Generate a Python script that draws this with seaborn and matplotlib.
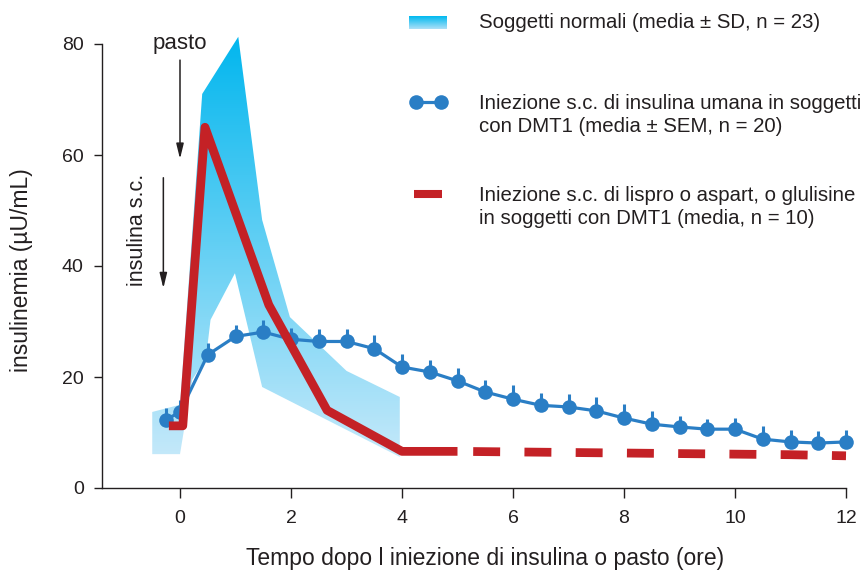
import numpy as np
import matplotlib
matplotlib.use("Agg")
import matplotlib.pyplot as plt
import seaborn as sns
import pandas as pd
from matplotlib.patches import Polygon
from matplotlib.lines import Line2D

# ---------------- data ----------------
# Normal subjects (mean ± SD) band edges
band_upper_t = [-0.5, 0.0, 0.40, 1.05, 1.48, 1.98, 3.0, 3.96]
band_upper_v = [13.7, 15.0, 71.0, 81.3, 48.3, 30.8, 21.1, 16.4]
band_lower_t = [-0.5, 0.0, 0.22, 0.47, 0.55, 0.99, 1.48, 3.96]
band_lower_v = [6.1, 6.1, 19.5, 23.5, 30.3, 38.7, 18.2, 5.6]

# Human insulin s.c. in DMT1 (mean ± SEM)
human_t = [-0.25, 0, 0.5, 1, 1.5, 2, 2.5, 3, 3.5, 4, 4.5, 5, 5.5, 6, 6.5,
           7, 7.5, 8, 8.5, 9, 9.5, 10, 10.5, 11, 11.5, 12]
human_v = [12.3, 13.7, 24.0, 27.3, 28.1, 26.8, 26.4, 26.4, 25.1, 21.8, 20.9,
           19.3, 17.3, 16.0, 14.9, 14.6, 13.9, 12.6, 11.5, 11.0, 10.6, 10.6,
           8.8, 8.3, 8.1, 8.3]
human_sem = [2.1, 2.2, 2.2, 2.1, 2.1, 2.0, 2.2, 2.2, 2.4, 2.3, 2.2, 2.3, 2.2,
             2.6, 2.3, 2.3, 2.5, 2.5, 2.4, 2.0, 1.8, 2.0, 2.3, 2.1, 2.1, 2.1]

# Lispro / aspart / glulisine in DMT1 (mean)
analog_t = [-0.2, 0.05, 0.45, 1.6, 2.65, 4.0, 5.0, 6, 7, 8, 9, 10, 11, 12]
analog_v = [11.2, 11.2, 65.0, 33.0, 14.0, 6.6, 6.6, 6.5, 6.4, 6.3, 6.2, 6.1, 6.0, 5.8]

x_ticks = [0, 2, 4, 6, 8, 10, 12]
y_ticks = [0, 20, 40, 60, 80]

legend_labels = [
    "Soggetti normali (media \u00b1 SD, n = 23)",
    "Iniezione s.c. di insulina umana in soggetti\ncon DMT1 (media \u00b1 SEM, n = 20)",
    "Iniezione s.c. di lispro o aspart, o glulisine\nin soggetti con DMT1 (media, n = 10)",
]
xlabel = "Tempo dopo l iniezione di insulina o pasto (ore)"
ylabel = "insulinemia (\u00b5U/mL)"

# ---------------- style ----------------
sns.set_style("white")
plt.rcParams["font.family"] = ["Liberation Sans", "DejaVu Sans"]
plt.rcParams["lines.scale_dashes"] = False

W, H = 866, 572
fig = plt.figure(figsize=(W / 100, H / 100), dpi=100)

# pixel mapping: x=0 -> 180px, x=12 -> 846px ; y=0 -> 488px, y=80 -> 44px
xpx = (846 - 180) / 12.0
ypx = (488 - 44) / 80.0
xmin, xmax = -1.41, 12.35
ymin, ymax = 0, 82.5
left = (180 + xmin * xpx) / W
right = (180 + xmax * xpx) / W
bottom = (H - 488) / H
top = (H - (488 - ymax * ypx)) / H
ax = fig.add_axes([left, bottom, right - left, top - bottom])

BLUE = "#2A7EC5"
RED = "#C42126"
DARK = "#231F20"

# gradient band
poly_xy = list(zip(band_upper_t, band_upper_v)) + list(zip(band_lower_t[::-1], band_lower_v[::-1]))
poly = Polygon(poly_xy, closed=True, facecolor="none", edgecolor="none")
ax.add_patch(poly)
top_c = np.array([0, 182, 238]) / 255.0
bot_c = np.array([198, 233, 250]) / 255.0
g = np.linspace(0, 1, 256)[:, None]
img = (bot_c[None, :] * (1 - g) + top_c[None, :] * g)[:, None, :]
im = ax.imshow(img, extent=[-0.7, 4.2, 5.0, 82.0], origin="lower",
               aspect="auto", zorder=1, interpolation="bilinear")
im.set_clip_path(poly)

# human insulin series
dfh = pd.DataFrame({"t": human_t, "v": human_v})
ax.errorbar(human_t, human_v, yerr=[np.zeros(len(human_sem)), human_sem],
            fmt="none", ecolor=BLUE, elinewidth=2.2, capsize=0, zorder=3)
sns.lineplot(data=dfh, x="t", y="v", ax=ax, color=BLUE, linewidth=2.3,
             marker="o", markersize=10.5, markeredgewidth=0, zorder=4,
             clip_on=False)

# analog series
dfa = pd.DataFrame({"t": analog_t, "v": analog_v})
solid = dfa[dfa["t"] <= 5.0]
dashed = dfa[dfa["t"] >= 5.0]
sns.lineplot(data=solid, x="t", y="v", ax=ax, color=RED, linewidth=6.3,
             solid_capstyle="butt", solid_joinstyle="round", zorder=5, sort=False)
sns.lineplot(data=dashed, x="t", y="v", ax=ax, color=RED, linewidth=6.3,
             linestyle=(25.6, (19.4, 17.5)), dash_capstyle="butt", zorder=5,
             sort=False, clip_on=False)

# axes
ax.set_xlim(xmin, xmax)
ax.set_ylim(ymin, ymax)
ax.set_xticks(x_ticks)
ax.set_yticks(y_ticks)
ax.set_xlabel("")
ax.set_ylabel("")
for s in ["top", "right"]:
    ax.spines[s].set_visible(False)
ax.spines["left"].set_bounds(0, 80)
ax.spines["bottom"].set_bounds(xmin, 12)
for s in ["left", "bottom"]:
    ax.spines[s].set_color(DARK)
    ax.spines[s].set_linewidth(1.0)
ax.tick_params(axis="x", direction="out", length=7, width=1.0, colors=DARK,
               labelsize=14, pad=9, bottom=True)
ax.tick_params(axis="y", direction="out", length=6, width=1.0, colors=DARK,
               labelsize=14, pad=7, left=True)
for lab in ax.get_xticklabels() + ax.get_yticklabels():
    lab.set_color(DARK)

# annotations
ax.text(0.0, 80.0, "pasto", ha="center", va="center", fontsize=16, color=DARK)
ax.annotate("", xy=(0.0, 59.3), xytext=(0.0, 77.1),
            arrowprops=dict(arrowstyle="-|>,head_length=0.9,head_width=0.22",
                            color=DARK, lw=1.1, shrinkA=0, shrinkB=0))
ax.text(-0.77, 46.5, "insulina s.c.", ha="center", va="center", rotation=90,
        fontsize=15.5, color=DARK)
ax.annotate("", xy=(-0.3, 36.0), xytext=(-0.3, 55.9),
            arrowprops=dict(arrowstyle="-|>,head_length=0.9,head_width=0.22",
                            color=DARK, lw=1.1, shrinkA=0, shrinkB=0))

# axis labels
fig.text(485 / W, 1 - 558 / H, xlabel, ha="center", va="center", fontsize=16.5, color=DARK)
fig.text(22 / W, 1 - 270 / H, ylabel, ha="center", va="center", rotation=90,
         fontsize=16.5, color=DARK)

# legend (manual)
def fx(p):
    return p / W

def fy(p):
    return 1 - p / H

sw = fig.add_axes([fx(409), fy(29), fx(447) - fx(409), fy(16) - fy(29)])
lg = np.linspace(0, 1, 64)[:, None]
limg = (np.array([172, 224, 248])[None, :] / 255.0 * (1 - lg) +
        np.array([0, 185, 240])[None, :] / 255.0 * lg)[:, None, :]
sw.imshow(limg, origin="lower", aspect="auto", extent=[0, 1, 0, 1])
sw.axis("off")

fig.add_artist(Line2D([fx(416), fx(441)], [fy(102), fy(102)], transform=fig.transFigure,
                      color=BLUE, linewidth=2.3, marker="o", markersize=10.5,
                      markeredgewidth=0))
fig.add_artist(Line2D([fx(414), fx(442)], [fy(194), fy(194)], transform=fig.transFigure,
                      color=RED, linewidth=5.8, solid_capstyle="butt"))

fig.text(fx(479), fy(23), legend_labels[0], ha="left", va="center", fontsize=14.7, color=DARK)
fig.text(fx(479), fy(115), legend_labels[1], ha="left", va="center", fontsize=14.7,
         color=DARK, linespacing=1.25)
fig.text(fx(479), fy(207), legend_labels[2], ha="left", va="center", fontsize=14.7,
         color=DARK, linespacing=1.25)

fig.savefig("out.png", dpi=100)
